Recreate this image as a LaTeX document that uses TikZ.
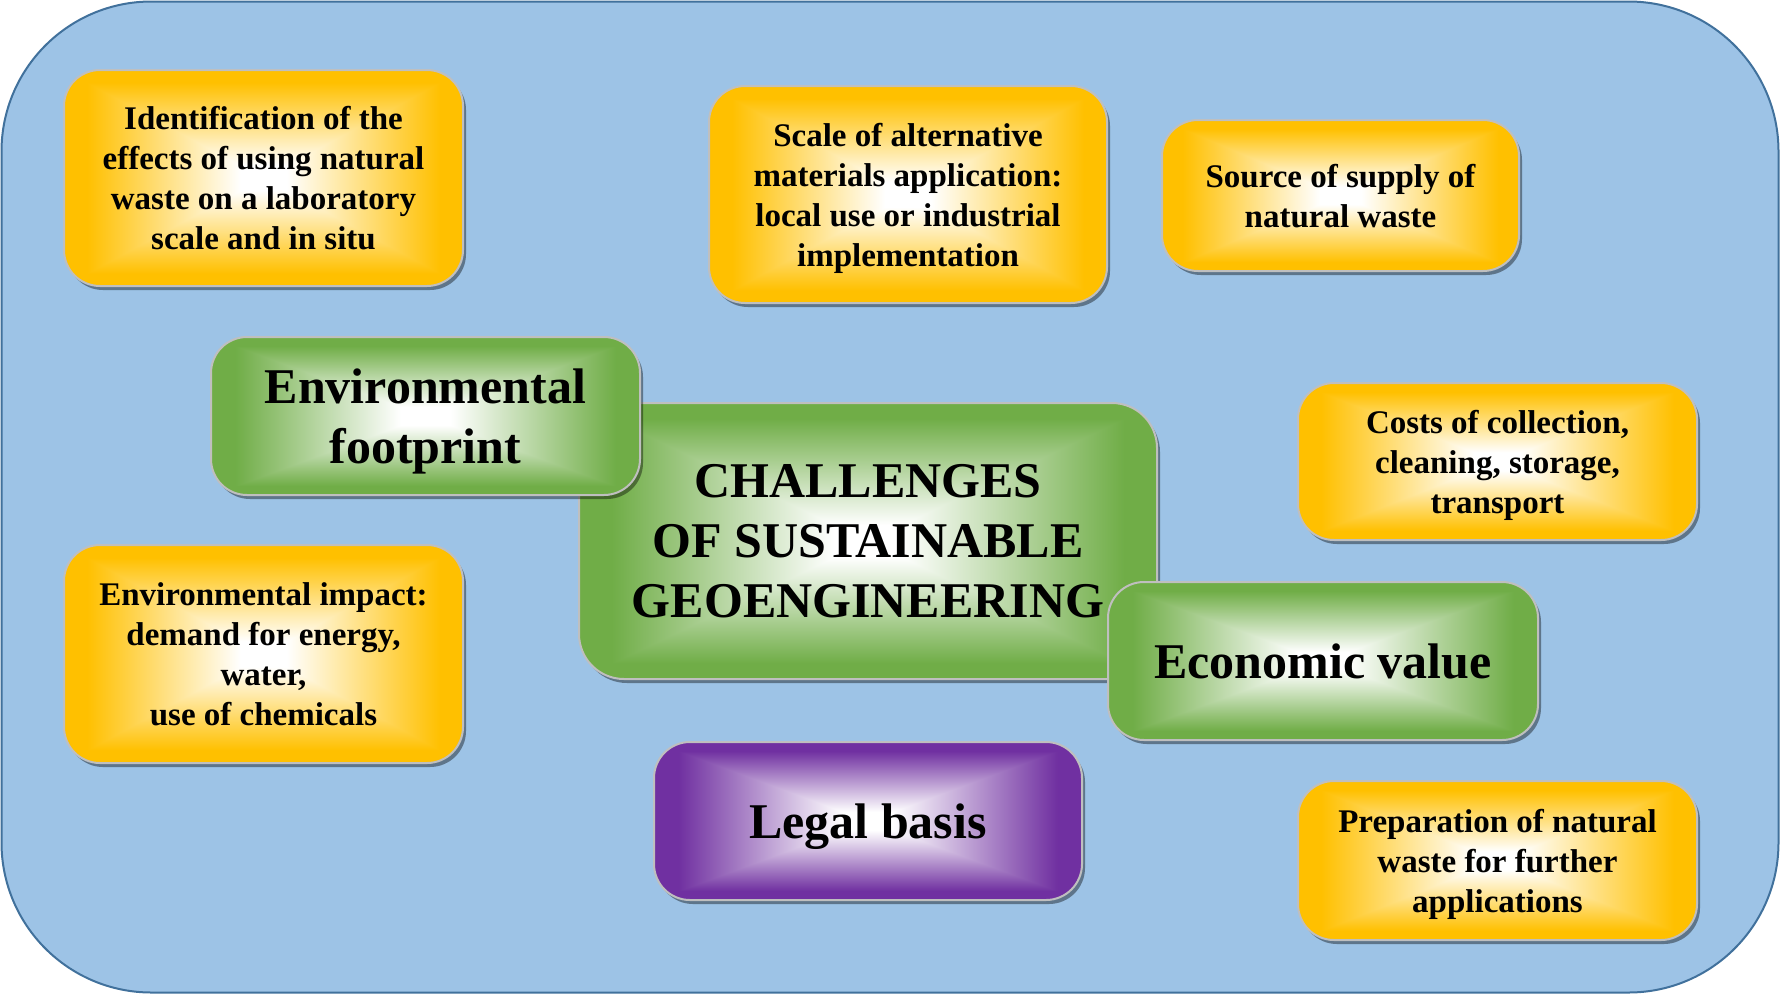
\documentclass[tikz,border=0pt]{standalone}
\usepackage{fontspec}
\setmainfont{Liberation Serif}
\usetikzlibrary{shadows}
\definecolor{bgfill}{HTML}{9DC3E6}
\definecolor{bgline}{HTML}{41719C}
\definecolor{boxline}{HTML}{BFBFBF}
\pgfdeclarefunctionalshading{rectyellow}{\pgfpoint{-50bp}{-50bp}}{\pgfpoint{50bp}{50bp}}{}{
abs exch abs 2 copy lt {exch} if pop 25 div 1.3 mul 0.15 sub dup 0 lt {pop 0} if dup 1 gt {pop 1} if
dup 0 mul 1 add exch dup -0.247 mul 1 add exch -1 mul 1 add}
\pgfdeclarefunctionalshading{rectgreen}{\pgfpoint{-50bp}{-50bp}}{\pgfpoint{50bp}{50bp}}{}{
abs exch abs 2 copy lt {exch} if pop 25 div 1.3 mul 0.15 sub dup 0 lt {pop 0} if dup 1 gt {pop 1} if
dup -0.56 mul 1 add exch dup -0.32 mul 1 add exch -0.72 mul 1 add}
\pgfdeclarefunctionalshading{rectpurple}{\pgfpoint{-50bp}{-50bp}}{\pgfpoint{50bp}{50bp}}{}{
abs exch abs 2 copy lt {exch} if pop 25 div 1.3 mul 0.15 sub dup 0 lt {pop 0} if dup 1 gt {pop 1} if
dup -0.56 mul 1 add exch dup -0.81 mul 1 add exch -0.37 mul 1 add}
\tikzset{
  basebox/.style={draw=boxline, line width=2pt, rounded corners=36pt, align=center, inner sep=0pt,
    text=black, text depth=0pt,
    drop shadow={shadow xshift=3pt, shadow yshift=-4pt, fill=black, opacity=0.4}},
  ybox/.style={basebox, shade, shading=rectyellow, font=\fontsize{33}{40}\selectfont\bfseries},
  gbox/.style={basebox, shade, shading=rectgreen, font=\fontsize{50}{60}\selectfont\bfseries},
  pbox/.style={basebox, shade, shading=rectpurple, font=\fontsize{50}{60}\selectfont\bfseries},
}
\begin{document}
\begin{tikzpicture}[x=1pt,y=-1pt]
\useasboundingbox (0,0) rectangle (1780,994);
\path[fill=bgfill, draw=bgline, line width=2pt, rounded corners=150pt] (1.5,1.5) rectangle (1778.5,992.5);

\node[ybox, minimum width=399, minimum height=216] (ident) at (263.5,178)
  {Identification of the\\effects of using natural\\waste on a laboratory\\scale and in situ};
\node[ybox, minimum width=398, minimum height=217] (scale) at (908,194.5)
  {Scale of alternative\\materials application:\\local use or industrial\\implementation};
\node[ybox, minimum width=357, minimum height=151] (source) at (1340.5,195.5)
  {Source of supply of\\natural waste};
\node[ybox, minimum width=399, minimum height=157] (costs) at (1497.5,461.5)
  {Costs of collection,\\cleaning, storage,\\transport};
\node[ybox, minimum width=399, minimum height=218] (impact) at (263.5,654)
  {Environmental impact:\\demand for energy,\\water,\\use of chemicals};
\node[ybox, minimum width=399, minimum height=159] (prep) at (1497.5,860.5)
  {Preparation of natural\\waste for further\\applications};

\node[gbox, rounded corners=45pt, minimum width=578, minimum height=276] (center) at (868,541)
  {CHALLENGES\\OF SUSTAINABLE\\GEOENGINEERING};
\node[gbox, minimum width=429, minimum height=158] (envfoot) at (425.5,416)
  {Environmental\\footprint};
\node[gbox, minimum width=430, minimum height=158] (econ) at (1323,661)
  {Economic value};
\node[pbox, minimum width=428, minimum height=158] (legal) at (868,821)
  {Legal basis};
\end{tikzpicture}
\end{document}
